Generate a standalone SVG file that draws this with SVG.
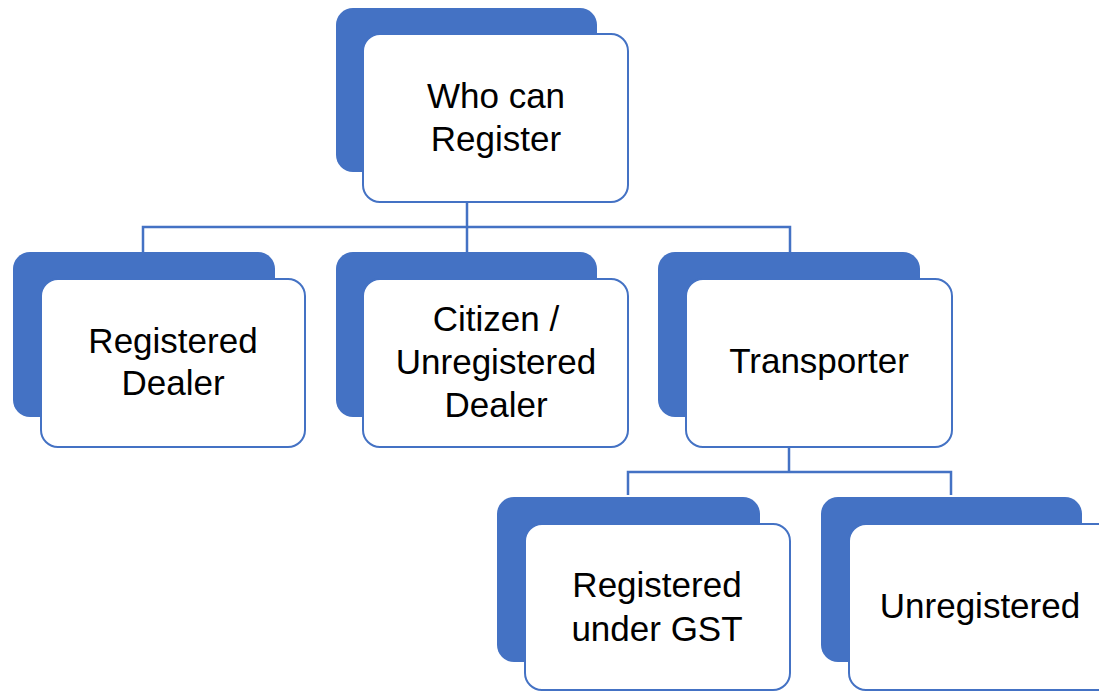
<svg xmlns="http://www.w3.org/2000/svg" width="1099" height="691" viewBox="0 0 1099 691">
<style>
.back{fill:#4472C4}
.front{fill:#FFFFFF;stroke:#4472C4;stroke-width:2}
.lbl{font-family:"Liberation Sans",Arial,sans-serif;font-size:35px;fill:#000;text-anchor:middle}
.conn{fill:none;stroke:#4472C4;stroke-width:2.5}
</style>
<rect width="1099" height="691" fill="#FFFFFF"/>
<g id="connectors">
<path class="conn" d="M467,202 V252 M143,252 V227 H790 V252"/>
<path class="conn" d="M789,447 V472 M628,495 V472 H951 V495"/>
</g>
<g id="node-who">
<rect class="back" x="336" y="8" width="261" height="164" rx="17"/>
<rect class="front" x="363" y="34" width="265" height="168" rx="17"/>
<text class="lbl" x="496" y="108">Who can</text>
<text class="lbl" x="496" y="151">Register</text>
</g>
<g id="node-registered-dealer">
<rect class="back" x="13" y="252" width="262" height="165" rx="17"/>
<rect class="front" x="41" y="279" width="264" height="168" rx="17"/>
<text class="lbl" x="173" y="353">Registered</text>
<text class="lbl" x="173" y="395">Dealer</text>
</g>
<g id="node-citizen">
<rect class="back" x="336" y="252" width="261" height="165" rx="17"/>
<rect class="front" x="363" y="279" width="265" height="168" rx="17"/>
<text class="lbl" x="496" y="331">Citizen /</text>
<text class="lbl" x="496" y="374">Unregistered</text>
<text class="lbl" x="496" y="417">Dealer</text>
</g>
<g id="node-transporter">
<rect class="back" x="658" y="252" width="262" height="165" rx="17"/>
<rect class="front" x="686" y="279" width="266" height="168" rx="17"/>
<text class="lbl" x="819" y="373">Transporter</text>
</g>
<g id="node-registered-gst">
<rect class="back" x="497" y="497" width="263" height="165" rx="17"/>
<rect class="front" x="525" y="524" width="265" height="166" rx="17"/>
<text class="lbl" x="657" y="597">Registered</text>
<text class="lbl" x="657" y="641">under GST</text>
</g>
<g id="node-unregistered">
<rect class="back" x="821" y="497" width="261" height="165" rx="17"/>
<rect class="front" x="849" y="524" width="265" height="166" rx="17"/>
<text class="lbl" x="980" y="618">Unregistered</text>
</g>
</svg>
